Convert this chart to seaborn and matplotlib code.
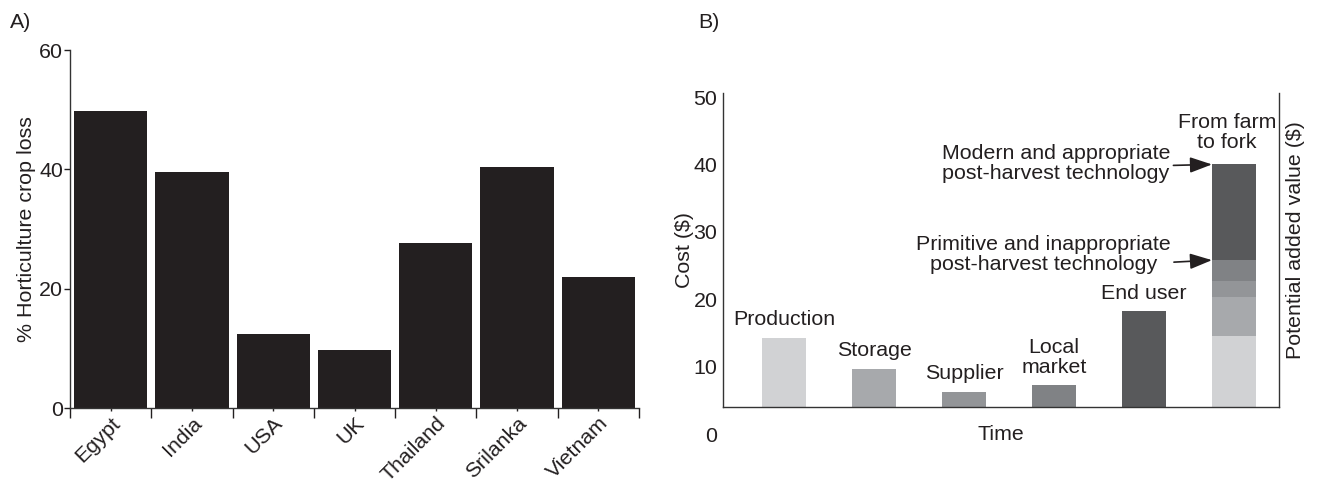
import numpy as np
import matplotlib
matplotlib.use('Agg')
import matplotlib.pyplot as plt
import seaborn as sns

# panel A data
countries = ['Egypt', 'India', 'USA', 'UK', 'Thailand', 'Srilanka', 'Vietnam']
crop_loss = [49.7, 39.6, 12.4, 9.7, 27.7, 40.4, 22.0]

# panel B data
stages = ['Production', 'Storage', 'Supplier', 'Local\nmarket', 'End user']
stage_cost = [14.3, 9.7, 6.3, 7.2, 18.2]
stage_colors = ['#d1d2d4', '#a7a9ac', '#939598', '#808285', '#58595b']
fork_label = 'From farm\nto fork'
fork_levels = [14.6, 20.3, 22.7, 25.8, 40.0]   # cumulative tops of the stacked bar
baseline = 4.0
cost_ticks = [0, 10, 20, 30, 40, 50]

FS = 15.4
sns.set_style('ticks')
plt.rcParams['font.family'] = ['Liberation Sans', 'DejaVu Sans']
plt.rcParams['font.size'] = FS
plt.rcParams['text.color'] = '#231f20'
plt.rcParams['axes.labelcolor'] = '#231f20'
plt.rcParams['xtick.color'] = '#231f20'
plt.rcParams['ytick.color'] = '#231f20'

W, H = 1317, 484
fig = plt.figure(figsize=(W / 100, H / 100), dpi=100)
ax1 = fig.add_axes([70 / W, 1 - 408 / H, (639 - 70) / W, (408 - 50) / H])
ax2 = fig.add_axes([723 / W, 1 - 434 / H, (1279 - 723) / W, (434 - 93) / H])

# ---- A) ----
sns.barplot(x=countries, y=crop_loss, color='#231f20', saturation=1,
            width=0.9, linewidth=0, ax=ax1)
n = len(countries)
ax1.set_xlim(-0.5, n - 0.5)
ax1.set_ylim(0, 60)
ax1.set_yticks([0, 20, 40, 60])
ax1.set_xticks(np.arange(n + 1) - 0.5, labels=[''] * (n + 1))
ax1.set_xticks(np.arange(n), labels=countries, minor=True)
ax1.tick_params(axis='x', which='major', length=7, width=1)
ax1.tick_params(axis='x', which='minor', length=2, width=1, pad=2, labelsize=FS)
ax1.tick_params(axis='y', length=4, width=1, pad=1, labelsize=FS)
for lbl in ax1.get_xticklabels(minor=True):
    lbl.set_rotation(45)
    lbl.set_ha('right')
    lbl.set_va('top')
    lbl.set_rotation_mode('anchor')
ax1.set_xlabel('')
ax1.set_ylabel('% Horticulture crop loss', fontsize=FS, labelpad=2)
for side in ['top', 'right']:
    ax1.spines[side].set_visible(False)
for side in ['left', 'bottom']:
    ax1.spines[side].set_color('#333333')
    ax1.spines[side].set_linewidth(1)

# ---- B) ----
w = 0.49
xs = np.arange(len(stages))
ax2.bar(xs, np.array(stage_cost) - baseline, width=w, bottom=baseline,
        color=stage_colors, linewidth=0)
fx = len(stages)
bottoms = [baseline] + fork_levels[:-1]
heights = np.array(fork_levels) - np.array(bottoms)
ax2.bar([fx] * len(fork_levels), heights, width=w, bottom=bottoms,
        color=stage_colors, linewidth=0)

for x, v, lab in zip(xs, stage_cost, stages):
    ax2.annotate(lab, (x, v), xytext=(0, 6), textcoords='offset points',
                 ha='center', va='bottom', fontsize=FS, linespacing=1.05)
ax2.annotate(fork_label, (fx, fork_levels[-1]), xytext=(-5, 9),
             textcoords='offset points', ha='center', va='bottom',
             fontsize=FS, linespacing=1.05)

arrow = dict(arrowstyle='-|>,head_length=0.9,head_width=0.32', color='#231f20',
             lw=1.2, shrinkA=0, shrinkB=0, mutation_scale=15)
ax2.annotate('Modern and appropriate\npost-harvest technology',
             xy=(fx - w / 2, fork_levels[-1]), xytext=(3.02, 40.1),
             textcoords='data', ha='center', va='center', multialignment='center',
             fontsize=FS, linespacing=1.05,
             arrowprops=dict(arrow, relpos=(0.96, 0.45)))
ax2.annotate('Primitive and inappropriate\npost-harvest technology',
             xy=(fx - w / 2, fork_levels[3]), xytext=(2.88, 26.6),
             textcoords='data', ha='center', va='center', multialignment='center',
             fontsize=FS, linespacing=1.05,
             arrowprops=dict(arrow, relpos=(0.93, 0.28)))

ax2.set_xlim(-0.68, 5.5)
ax2.set_ylim(0, 50.6)
ax2.set_yticks(cost_ticks)
ax2.set_xticks([])
ax2.tick_params(axis='y', length=0, pad=4, labelsize=FS)
ax2.spines['top'].set_visible(False)
ax2.spines['bottom'].set_position(('data', baseline))
ax2.spines['left'].set_bounds(baseline, 50.6)
ax2.spines['right'].set_bounds(baseline, 50.6)
for side in ['left', 'right', 'bottom']:
    ax2.spines[side].set_color('#333333')
    ax2.spines[side].set_linewidth(1)
ax2.set_xlabel('Time', fontsize=FS, labelpad=13)
ax2.set_ylabel('Cost ($)', fontsize=FS)
ax2.yaxis.set_label_coords(-0.052, 0.54)
ax2.text(1.029, 0.569, 'Potential added value ($)', transform=ax2.transAxes,
         rotation=90, ha='center', va='center', fontsize=FS)

fig.text(10 / W, 1 - 23 / H, 'A)', ha='left', va='center', fontsize=FS)
fig.text(698 / W, 1 - 22 / H, 'B)', ha='left', va='center', fontsize=FS)

fig.savefig('out.png', dpi=100)
